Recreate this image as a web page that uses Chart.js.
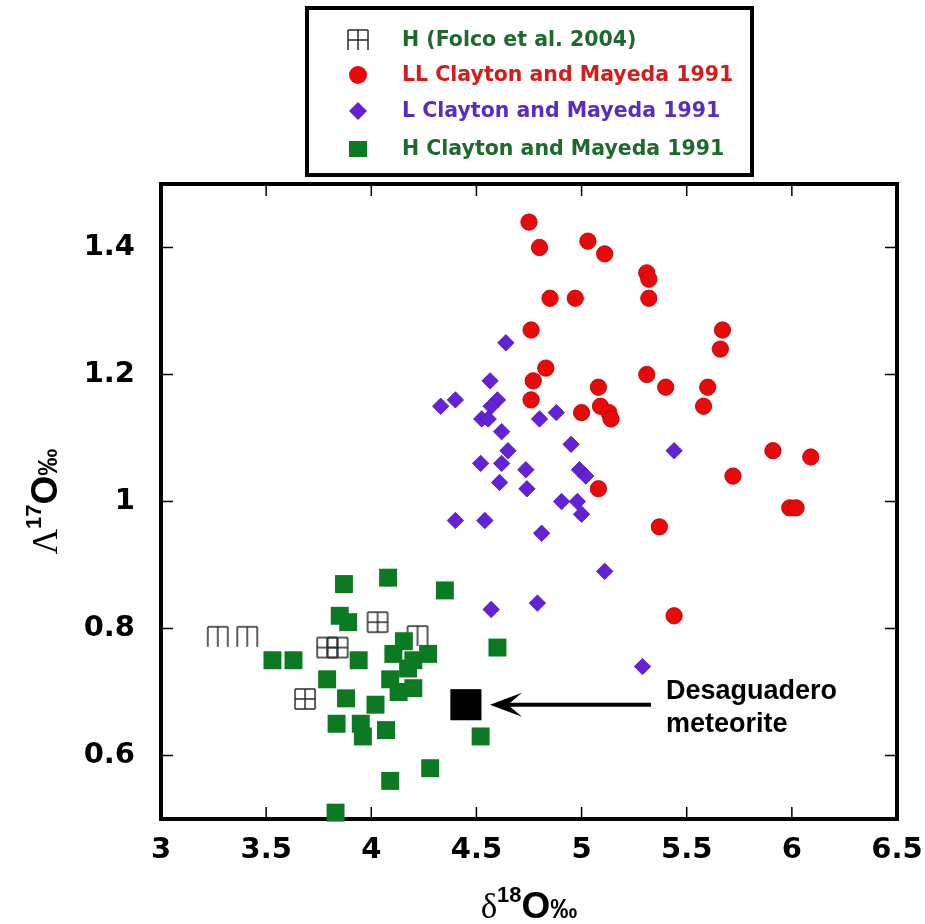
<!DOCTYPE html>
<html>
<head>
<meta charset="utf-8">
<script src="https://cdn.jsdelivr.net/npm/chart.js@4.4.1/dist/chart.umd.min.js"></script>
<style>
  html, body { margin: 0; padding: 0; background: #fff; }
</style>
</head>
<body>
<canvas id="chart" width="925" height="924"></canvas>
<script>
// axis ticks
const xTicks = [3, 3.5, 4, 4.5, 5, 5.5, 6, 6.5];
const yTicks = [0.6, 0.8, 1, 1.2, 1.4];

// H chondrites, Folco et al. 2004
const folcoX = [3.27, 3.41, 4.22, 4.03, 3.79, 3.84, 3.685];
const folcoY = [0.787, 0.787, 0.788, 0.81, 0.77, 0.77, 0.689];

// LL, Clayton and Mayeda 1991
const llX = [4.75, 4.80, 5.03, 5.11, 5.31, 5.32, 5.32, 4.85, 4.97, 4.76, 5.67, 5.66, 4.83, 4.77, 4.76, 5.08,
  5.31, 5.40, 5.60, 5.00, 5.09, 5.13, 5.14, 5.58, 5.91, 6.09, 5.72, 5.99, 6.02, 5.08, 5.37, 5.44];
const llY = [1.44, 1.40, 1.41, 1.39, 1.36, 1.35, 1.32, 1.32, 1.32, 1.27, 1.27, 1.24, 1.21, 1.19, 1.16, 1.18,
  1.20, 1.18, 1.18, 1.14, 1.15, 1.14, 1.13, 1.15, 1.08, 1.07, 1.04, 0.99, 0.99, 1.02, 0.96, 0.82];

// L, Clayton and Mayeda 1991
const lX = [4.64, 4.565, 4.33, 4.40, 4.60, 4.57, 4.525, 4.556, 4.80, 4.88, 4.62, 4.95, 4.65, 4.52, 4.62, 4.735,
  4.99, 5.02, 4.61, 4.74, 4.905, 4.98, 5.00, 4.40, 4.54, 4.81, 5.11, 4.57, 4.79, 5.44, 5.29];
const lY = [1.25, 1.19, 1.15, 1.16, 1.16, 1.15, 1.13, 1.13, 1.13, 1.14, 1.11, 1.09, 1.08, 1.06, 1.06, 1.05,
  1.05, 1.04, 1.03, 1.02, 1.00, 1.00, 0.98, 0.97, 0.97, 0.95, 0.89, 0.83, 0.84, 1.08, 0.74];

// H, Clayton and Mayeda 1991
const hX = [3.87, 4.08, 4.35, 3.85, 3.89, 3.53, 3.63, 3.94, 3.79, 3.88, 4.02, 3.835, 3.95, 3.96, 4.07, 4.60,
  4.52, 4.28, 4.09, 3.83, 4.155, 4.105, 4.20, 4.27, 4.175, 4.09, 4.13, 4.20];
const hY = [0.87, 0.88, 0.86, 0.82, 0.81, 0.75, 0.75, 0.75, 0.72, 0.69, 0.68, 0.65, 0.65, 0.63, 0.64, 0.77,
  0.63, 0.58, 0.56, 0.51, 0.78, 0.76, 0.75, 0.76, 0.737, 0.72, 0.70, 0.706];

// Desaguadero meteorite
const desagX = [4.45];
const desagY = [0.68];
const arrowFromX = 5.33;

const legendLabels = ['H (Folco et al. 2004)', 'LL Clayton and Mayeda 1991', 'L Clayton and Mayeda 1991', 'H Clayton and Mayeda 1991'];
const noteLines = ['Desaguadero', 'meteorite'];

const GREEN = '#0b7a22';
const RED = '#e80a0a';
const PURPLE = '#6422d6';
const INK = '#2a2a2a';

const toPoints = (xs, ys) => xs.map((x, i) => ({ x: x, y: ys[i] }));

// open square symbol with cross; variants leave out the middle / bottom bars
function gridSymbol(middle, bottom) {
  const c = document.createElement('canvas');
  c.width = 24; c.height = 24;
  const g = c.getContext('2d');
  g.strokeStyle = INK;
  g.lineWidth = 1.5;
  g.beginPath();
  g.moveTo(2, 2); g.lineTo(22, 2);
  g.moveTo(2, 2); g.lineTo(2, 22);
  g.moveTo(12, 2); g.lineTo(12, 22);
  g.moveTo(22, 2); g.lineTo(22, 22);
  if (middle) { g.moveTo(2, 12); g.lineTo(22, 12); }
  if (bottom) { g.moveTo(2, 22); g.lineTo(22, 22); }
  g.stroke();
  return c;
}
const gridFull = gridSymbol(true, true);
const gridOpen = gridSymbol(false, false);
const gridLegend = gridSymbol(true, false);

const framePlugin = {
  id: 'frame',
  beforeDatasetsDraw(chart) {
    const { ctx, chartArea: a, scales } = chart;
    ctx.save();
    ctx.strokeStyle = '#000';
    ctx.lineWidth = 1.5;
    ctx.beginPath();
    xTicks.forEach(v => {
      const px = scales.x.getPixelForValue(v);
      ctx.moveTo(px, a.bottom); ctx.lineTo(px, a.bottom - 12);
      ctx.moveTo(px, a.top); ctx.lineTo(px, a.top + 12);
    });
    yTicks.forEach(v => {
      const py = scales.y.getPixelForValue(v);
      ctx.moveTo(a.left, py); ctx.lineTo(a.left + 12, py);
      ctx.moveTo(a.right, py); ctx.lineTo(a.right - 12, py);
    });
    ctx.stroke();
    ctx.lineWidth = 4;
    ctx.strokeRect(a.left, a.top, a.right - a.left, a.bottom - a.top);
    ctx.restore();
  },
  afterDatasetsDraw(chart) {
    const { ctx, scales } = chart;
    const x0 = scales.x.getPixelForValue(arrowFromX);
    const tipX = scales.x.getPixelForValue(desagX[0]) + 24;
    const py = scales.y.getPixelForValue(desagY[0]);
    ctx.save();
    // arrow
    ctx.strokeStyle = '#000';
    ctx.fillStyle = '#000';
    ctx.lineWidth = 4;
    ctx.beginPath();
    ctx.moveTo(x0, py); ctx.lineTo(tipX + 16, py);
    ctx.stroke();
    ctx.beginPath();
    ctx.moveTo(tipX, py);
    ctx.lineTo(tipX + 32, py - 12);
    ctx.lineTo(tipX + 18, py);
    ctx.lineTo(tipX + 32, py + 12);
    ctx.closePath();
    ctx.fill();
    // note
    ctx.font = 'bold 27px "Liberation Sans", Arial, sans-serif';
    ctx.textAlign = 'left';
    ctx.textBaseline = 'alphabetic';
    ctx.fillText(noteLines[0], x0 + 15, py - 6);
    ctx.fillText(noteLines[1], x0 + 15, py + 27);
    ctx.restore();
  },
  afterDraw(chart) {
    const { ctx, chartArea: a } = chart;
    ctx.save();
    // legend box
    ctx.lineWidth = 4;
    ctx.strokeStyle = '#000';
    ctx.strokeRect(307, 8, 445, 167);
    const rows = [40, 75, 111, 149];
    const textColors = ['#1d6a2c', '#d41c1c', '#5a2cc4', '#1d6a2c'];
    const sx = 358;
    ctx.drawImage(gridLegend, sx - 12, rows[0] - 12);
    ctx.fillStyle = RED;
    ctx.beginPath(); ctx.arc(sx, rows[1], 9, 0, Math.PI * 2); ctx.fill();
    ctx.fillStyle = PURPLE;
    ctx.beginPath();
    ctx.moveTo(sx, rows[2] - 9); ctx.lineTo(sx + 9, rows[2]); ctx.lineTo(sx, rows[2] + 9); ctx.lineTo(sx - 9, rows[2]);
    ctx.closePath(); ctx.fill();
    ctx.fillStyle = GREEN;
    ctx.fillRect(sx - 9, rows[3] - 8, 18, 16);
    ctx.font = 'bold 20.5px "DejaVu Sans", sans-serif';
    ctx.textBaseline = 'middle';
    ctx.textAlign = 'left';
    legendLabels.forEach((t, i) => {
      ctx.fillStyle = textColors[i];
      ctx.fillText(t, 402, rows[i] + 1);
    });

    // axis titles
    ctx.fillStyle = '#000';
    ctx.textBaseline = 'alphabetic';
    const cx = (a.left + a.right) / 2;
    drawTitle(ctx, '\u03B4', '18', cx, 918);
    ctx.translate(44, (a.top + a.bottom) / 2);
    ctx.rotate(-Math.PI / 2);
    drawTitle(ctx, '\u039B', '17', 0, 13);
    ctx.restore();
  }
};

function drawTitle(ctx, sym, sup, cx, base) {
  const parts = [
    { t: sym, f: '35px "Liberation Serif", "DejaVu Serif", serif', dy: 0 },
    { t: sup, f: 'bold 22px "Liberation Sans", Arial, sans-serif', dy: -16 },
    { t: 'O', f: 'bold 37px "Liberation Sans", Arial, sans-serif', dy: 0 },
    { t: '\u2030', f: 'bold 27px "Liberation Sans", Arial, sans-serif', dy: 0 }
  ];
  let total = 0;
  parts.forEach(p => { ctx.font = p.f; p.w = ctx.measureText(p.t).width; total += p.w; });
  let x = cx - total / 2;
  ctx.textAlign = 'left';
  parts.forEach(p => { ctx.font = p.f; ctx.fillText(p.t, x, base + p.dy); x += p.w; });
}

const tickFont = { family: '"DejaVu Sans", sans-serif', size: 29, weight: 'bold' };

new Chart(document.getElementById('chart').getContext('2d'), {
  type: 'scatter',
  data: {
    datasets: [
      {
        label: legendLabels[0],
        data: toPoints(folcoX, folcoY),
        pointStyle: ctx => (ctx.dataIndex < 3 ? gridOpen : gridFull),
        order: 5
      },
      {
        label: legendLabels[3],
        data: toPoints(hX, hY),
        pointStyle: 'rect',
        pointRadius: 12.7,
        backgroundColor: GREEN,
        borderColor: GREEN,
        borderWidth: 0,
        order: 4
      },
      {
        label: legendLabels[2],
        data: toPoints(lX, lY),
        pointStyle: 'rectRot',
        pointRadius: 8.2,
        backgroundColor: PURPLE,
        borderColor: '#4a14a8',
        borderWidth: 0.8,
        order: 3
      },
      {
        label: legendLabels[1],
        data: toPoints(llX, llY),
        pointStyle: 'circle',
        pointRadius: 8.2,
        backgroundColor: RED,
        borderColor: '#b00000',
        borderWidth: 0.8,
        order: 2
      },
      {
        label: 'Desaguadero',
        data: toPoints(desagX, desagY),
        pointStyle: 'rect',
        pointRadius: 22,
        backgroundColor: '#000',
        borderWidth: 0,
        order: 1
      }
    ]
  },
  options: {
    responsive: false,
    animation: false,
    events: [],
    clip: false,
    layout: { padding: { left: 0, top: 184, right: 28, bottom: 0 } },
    plugins: { legend: { display: false }, tooltip: { enabled: false } },
    scales: {
      x: {
        type: 'linear',
        min: 3,
        max: 6.5,
        grid: { display: false },
        border: { display: false },
        afterBuildTicks: s => { s.ticks = xTicks.map(v => ({ value: v })); },
        afterFit: s => { s.height = 105; s.paddingLeft = 0; s.paddingRight = 0; },
        ticks: { font: tickFont, color: '#000', padding: 6, maxRotation: 0, callback: v => String(v) }
      },
      y: {
        type: 'linear',
        min: 0.5,
        max: 1.5,
        grid: { display: false },
        border: { display: false },
        afterBuildTicks: s => { s.ticks = yTicks.map(v => ({ value: v })); },
        afterFit: s => { s.width = 161; s.paddingTop = 0; s.paddingBottom = 0; },
        ticks: { font: tickFont, color: '#000', padding: 18, callback: v => String(v) }
      }
    }
  },
  plugins: [framePlugin]
});
</script>
</body>
</html>
